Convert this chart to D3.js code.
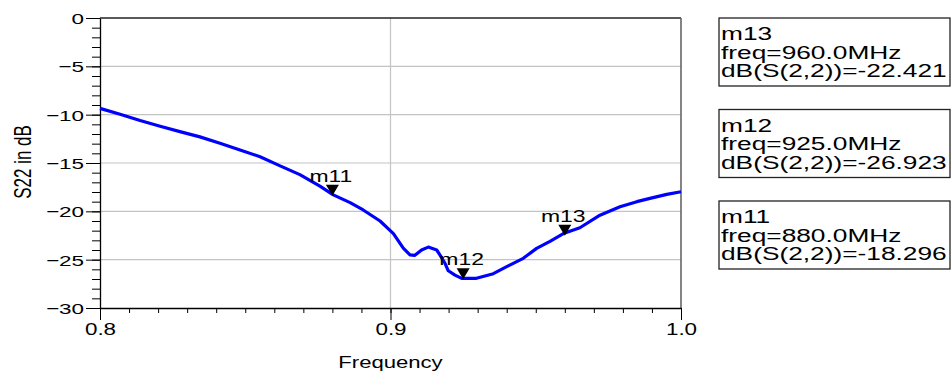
<!DOCTYPE html>
<html>
<head>
<meta charset="utf-8">
<title>S22</title>
<style type="text/css">
body { margin: 0; background: #fff; }
text { font-family: 'Liberation Sans', Arial, sans-serif; }
</style>
</head>
<body>
<script src="https://d3js.org/d3.v7.min.js"></script>
<script type="text/javascript">

// curve (GHz, dB)
const freq = [0.800, 0.8069, 0.8138, 0.8207, 0.8275, 0.8344, 0.8413, 0.8482, 0.8551, 0.8620,
              0.8688, 0.8757, 0.8803, 0.8861, 0.8906, 0.8964, 0.9010, 0.9044, 0.9067, 0.9084,
              0.9107, 0.9130, 0.9159, 0.9170, 0.9188, 0.9199, 0.9222, 0.9245, 0.9296, 0.9354,
              0.9400, 0.9457, 0.9503, 0.9549, 0.9595, 0.9652, 0.9721, 0.9790, 0.9848, 0.9893,
              0.9951, 1.000];
const s22 = [-9.35, -9.95, -10.6, -11.2, -11.75, -12.3, -12.95, -13.65, -14.35, -15.3,
             -16.2, -17.4, -18.3, -19.1, -19.86, -21.0, -22.3, -23.8, -24.5, -24.55,
             -24.0, -23.7, -24.0, -24.5, -25.4, -26.15, -26.6, -26.93, -26.93, -26.45,
             -25.72, -24.86, -23.83, -23.1, -22.3, -21.7, -20.4, -19.52, -19.0, -18.66,
             -18.24, -17.97];

// markers
const markerNames = ["m13", "m12", "m11"];
const markerFreq = [0.960, 0.925, 0.880];
const markerVal = [-22.421, -26.923, -18.296];

const xMajor = [0.8, 0.9, 1.0];
const yMajor = [-30, -25, -20, -15, -10, -5, 0];

const W = 952, H = 374;
const plot = {left: 100, right: 681, top: 18, bottom: 308};

const svg = d3.select("body").append("svg")
    .attr("width", W)
    .attr("height", H);

const x = d3.scaleLinear().domain([0.8, 1.0]).range([plot.left, plot.right]);
const y = d3.scaleLinear().domain([-30, 0]).range([plot.bottom, plot.top]);

// widen text like the stretched original
function stretch(sel, k) {
  sel.each(function() {
    const w = this.getComputedTextLength();
    d3.select(this).attr("textLength", w * k).attr("lengthAdjust", "spacingAndGlyphs");
  });
}

// grid
svg.append("g").selectAll("line")
    .data(yMajor.filter(d => d > -30 && d < 0))
  .enter().append("line")
    .attr("x1", plot.left).attr("x2", plot.right)
    .attr("y1", d => y(d)).attr("y2", d => y(d))
    .attr("stroke", "#c4c4c4").attr("stroke-width", 1.2);

svg.append("g").selectAll("line")
    .data(xMajor.filter(d => d > 0.8 && d < 1.0))
  .enter().append("line")
    .attr("x1", d => x(d)).attr("x2", d => x(d))
    .attr("y1", plot.top).attr("y2", plot.bottom)
    .attr("stroke", "#c4c4c4").attr("stroke-width", 1.2);

// frame top / right
svg.append("line")
    .attr("x1", plot.left).attr("x2", plot.right).attr("y1", plot.top).attr("y2", plot.top)
    .attr("stroke", "#222").attr("stroke-width", 1.3);
svg.append("line")
    .attr("x1", plot.right).attr("x2", plot.right).attr("y1", plot.top).attr("y2", plot.bottom)
    .attr("stroke", "#666").attr("stroke-width", 1.6);

// minor ticks
svg.append("g")
    .attr("transform", "translate(" + plot.left + ",0)")
    .call(d3.axisLeft(y).tickValues(d3.range(-30, 1, 1)).tickSize(8).tickSizeOuter(0).tickFormat(""))
    .call(g => g.select(".domain").remove())
    .selectAll("line").attr("stroke", "#000");

svg.append("g")
    .attr("transform", "translate(0," + plot.bottom + ")")
    .call(d3.axisBottom(x).tickValues(d3.range(80, 101, 1).map(d => d / 100)).tickSize(5).tickSizeOuter(0).tickFormat(""))
    .call(g => g.select(".domain").remove())
    .selectAll("line").attr("stroke", "#000");

// major ticks + labels
const yAxis = svg.append("g")
    .attr("transform", "translate(" + plot.left + ",0)")
    .call(d3.axisLeft(y).tickValues(yMajor).tickSize(14).tickSizeOuter(0).tickPadding(2).tickFormat(d3.format("d")));
yAxis.select(".domain").attr("stroke", "#000").attr("stroke-width", 1.3);
yAxis.selectAll("line").attr("stroke", "#000");
yAxis.selectAll("text")
    .attr("font-size", 15.5)
    .attr("font-family", "'Liberation Sans', Arial, sans-serif")
    .attr("fill", "#000")
    .attr("dy", "0.36em")
    .call(stretch, 1.45);

const xAxis = svg.append("g")
    .attr("transform", "translate(0," + plot.bottom + ")")
    .call(d3.axisBottom(x).tickValues(xMajor).tickSize(12).tickSizeOuter(0).tickPadding(4).tickFormat(d3.format(".1f")));
xAxis.select(".domain").attr("stroke", "#000").attr("stroke-width", 1.3);
xAxis.selectAll("line").attr("stroke", "#000");
xAxis.selectAll("text")
    .attr("font-size", 16)
    .attr("font-family", "'Liberation Sans', Arial, sans-serif")
    .attr("fill", "#000")
    .call(stretch, 1.4);

// axis titles
svg.append("text")
    .attr("x", (plot.left + plot.right) / 2)
    .attr("y", 368)
    .attr("text-anchor", "middle")
    .attr("font-size", 16)
    .text("Frequency")
    .call(stretch, 1.38);

svg.append("text")
    .attr("transform", "translate(22,162) scale(1.45,1) rotate(-90)")
    .attr("text-anchor", "middle")
    .attr("dy", "0.35em")
    .attr("font-size", 17)
    .text("S22 in dB");

// curve
const pts = freq.map((f, i) => [f, s22[i]]);
svg.append("path")
    .datum(pts)
    .attr("fill", "none")
    .attr("stroke", "#0000ff")
    .attr("stroke-width", 3.2)
    .attr("stroke-linejoin", "round")
    .attr("d", d3.line().x(d => x(d[0])).y(d => y(d[1])));

// markers on the curve
const markers = markerNames.map((n, i) => ({ name: n, f: markerFreq[i], v: markerVal[i] }));

const mk = svg.append("g").selectAll("g")
    .data(markers)
  .enter().append("g")
    .attr("transform", d => "translate(" + x(d.f) + "," + y(d.v) + ")");

mk.append("path")
    .attr("d", "M-6.5,-10 L6.5,-10 L0,1 Z")
    .attr("fill", "#000");

mk.append("text")
    .attr("x", -1.5)
    .attr("y", -13)
    .attr("text-anchor", "middle")
    .attr("font-size", 17)
    .text(d => d.name)
    .call(stretch, 1.35);

// marker readout boxes
const boxX = 719, boxW = 231, boxH = 68, boxGap = 91.5, boxTop = 18;
const box = svg.append("g").selectAll("g")
    .data(markers)
  .enter().append("g")
    .attr("transform", (d, i) => "translate(" + boxX + "," + (boxTop + i * boxGap) + ")");

box.append("rect")
    .attr("width", boxW)
    .attr("height", boxH)
    .attr("fill", "#fff")
    .attr("stroke", "#222")
    .attr("stroke-width", 1.3);

box.each(function(d) {
  const g = d3.select(this);
  const lines = [d.name, "freq=" + (d.f * 1000).toFixed(1) + "MHz", "dB(S(2,2))=" + d.v.toFixed(3)];
  g.selectAll("text")
      .data(lines)
    .enter().append("text")
      .attr("x", 2)
      .attr("y", (t, j) => 22 + j * 18.7)
      .attr("font-size", 18)
      .text(t => t)
      .call(stretch, 1.46);
});

</script>
</body>
</html>
